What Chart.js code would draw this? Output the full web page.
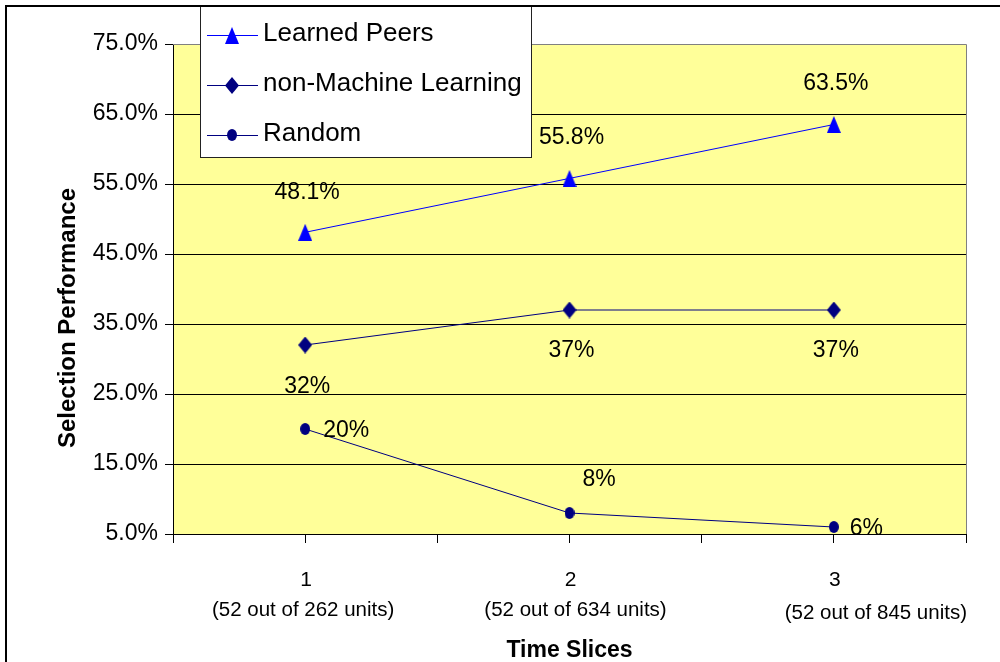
<!DOCTYPE html>
<html lang="en">
<head>
  <meta charset="UTF-8">
  <title>Selection Performance</title>
  <script src="https://cdn.jsdelivr.net/npm/chart.js"></script>
  <style>
    html, body { margin: 0; padding: 0; background: #fff; }
    canvas { display: block; }
  </style>
</head>
<body>
  <canvas id="chart" width="1000" height="662"></canvas>

  <script>
    // values
    const timeSlices = [1, 2, 3];
    const sliceNotes = ['(52 out of 262 units)', '(52 out of 634 units)', '(52 out of 845 units)'];
    const learnedPeers = [48.1, 55.8, 63.5];
    const nonMachineLearning = [32, 37, 37];
    const randomPeers = [20, 8, 6];
    const yTicks = [5, 15, 25, 35, 45, 55, 65, 75];

    const FONT = "'Liberation Sans', Arial, sans-serif";

    // small canvases used as point markers (the original ones are a bit taller than wide)
    function makeMarker(w, h, color, shape) {
      const c = document.createElement('canvas');
      c.width = w;
      c.height = h;
      const g = c.getContext('2d');
      g.fillStyle = color;
      g.beginPath();
      if (shape === 'triangle') {
        g.moveTo(w / 2, 0); g.lineTo(w, h); g.lineTo(0, h);
      } else if (shape === 'diamond') {
        g.moveTo(w / 2, 0); g.lineTo(w, h / 2); g.lineTo(w / 2, h); g.lineTo(0, h / 2);
      } else {
        g.ellipse(w / 2, h / 2, w / 2, h / 2, 0, 0, Math.PI * 2);
      }
      g.closePath();
      g.fill();
      return c;
    }

    const triMark = makeMarker(14, 17, '#0000FF', 'triangle');
    const diaMark = makeMarker(14, 17, '#000080', 'diamond');
    const dotMark = makeMarker(10, 12, '#000080', 'ellipse');

    // where each value label sits relative to its point: [dx, dy, align]
    const labelSpots = [
      [[2, -40, 'center'], [2, -41, 'center'], [2, -41, 'center']],
      [[2, 42, 'center'], [2, 41, 'center'], [2, 41, 'center']],
      [[18, 2, 'left'], [13, -33, 'left'], [16, 2, 'left']]
    ];
    const noteShift = [[-2, 0], [6, 0], [42, 3]];

    const toPoints = vals => timeSlices.map((x, i) => ({ x: x, y: vals[i] }));

    const decorations = {
      id: 'decorations',
      beforeDraw(chart) {
        const { ctx, chartArea: a } = chart;
        ctx.save();
        ctx.fillStyle = '#fff';
        ctx.fillRect(0, 0, chart.width, chart.height);
        ctx.fillStyle = '#FFFF99';
        ctx.fillRect(a.left, a.top, a.right - a.left, a.bottom - a.top);
        ctx.restore();
      },
      afterDraw(chart) {
        const { ctx, chartArea: a } = chart;
        const xs = chart.scales.x;
        ctx.save();

        // grey frame on top/right of the plot
        ctx.strokeStyle = '#808080';
        ctx.lineWidth = 1;
        ctx.beginPath();
        ctx.moveTo(a.left, Math.round(a.top) + 0.5);
        ctx.lineTo(Math.round(a.right) + 0.5, Math.round(a.top) + 0.5);
        ctx.lineTo(Math.round(a.right) + 0.5, a.bottom);
        ctx.stroke();

        // value labels
        ctx.fillStyle = '#000';
        ctx.font = '23px ' + FONT;
        ctx.textBaseline = 'middle';
        chart.data.datasets.forEach((ds, d) => {
          chart.getDatasetMeta(d).data.forEach((pt, i) => {
            const s = labelSpots[d][i];
            ctx.textAlign = s[2];
            ctx.fillText(ds.data[i].y + '%', pt.x + s[0], pt.y + s[1]);
          });
        });

        // category labels under the x axis
        ctx.textAlign = 'center';
        timeSlices.forEach((v, i) => {
          const px = xs.getPixelForValue(v);
          ctx.font = '21px ' + FONT;
          ctx.fillText(String(v), px + 1, 580);
          ctx.font = '20.5px ' + FONT;
          ctx.fillText(sliceNotes[i], px + noteShift[i][0], 610 + noteShift[i][1]);
        });

        // y axis title
        ctx.save();
        ctx.translate(68, 318);
        ctx.rotate(-Math.PI / 2);
        ctx.font = 'bold 24px ' + FONT;
        ctx.fillText('Selection Performance', 0, 0);
        ctx.restore();

        // legend
        ctx.fillStyle = '#fff';
        ctx.fillRect(200, 6, 331, 151);
        ctx.strokeStyle = '#222';
        ctx.strokeRect(200.5, 6.5, 331, 151);
        const rows = [33.5, 83.5, 133.5];
        chart.data.datasets.forEach((ds, d) => {
          const y = rows[d];
          ctx.strokeStyle = ds.borderColor;
          ctx.beginPath();
          ctx.moveTo(207, Math.round(y + 1) + 0.5);
          ctx.lineTo(258, Math.round(y + 1) + 0.5);
          ctx.stroke();
          const m = ds.pointStyle;
          ctx.drawImage(m, 232 - m.width / 2, Math.round(y + 1.5 - m.height / 2));
          ctx.fillStyle = '#000';
          ctx.textAlign = 'left';
          ctx.font = '26px ' + FONT;
          ctx.fillText(ds.label, 263, y);
        });

        // outer frame (cut by the picture on the right and bottom)
        ctx.fillStyle = '#000';
        ctx.fillRect(5, 5, 995, 2);
        ctx.fillRect(5, 5, 2, 657);
        ctx.restore();
      }
    };

    new Chart(document.getElementById('chart'), {
      type: 'line',
      data: {
        datasets: [
          {
            label: 'Learned Peers',
            data: toPoints(learnedPeers),
            borderColor: '#0000FF',
            backgroundColor: '#0000FF',
            borderWidth: 1,
            pointStyle: triMark,
            pointRadius: 8
          },
          {
            label: 'non-Machine Learning',
            data: toPoints(nonMachineLearning),
            borderColor: '#000080',
            backgroundColor: '#000080',
            borderWidth: 1,
            pointStyle: diaMark,
            pointRadius: 8
          },
          {
            label: 'Random',
            data: toPoints(randomPeers),
            borderColor: '#000080',
            backgroundColor: '#000080',
            borderWidth: 1,
            pointStyle: dotMark,
            pointRadius: 6
          }
        ]
      },
      options: {
        responsive: false,
        animation: false,
        tension: 0,
        layout: { padding: { top: 44, right: 34, left: 0, bottom: 0 } },
        plugins: {
          legend: { display: false },
          tooltip: { enabled: false }
        },
        scales: {
          x: {
            type: 'linear',
            min: timeSlices[0] - 0.5,
            max: timeSlices[timeSlices.length - 1] + 0.5,
            ticks: { stepSize: 0.5, display: false },
            grid: { drawOnChartArea: false, drawTicks: true, tickLength: 9, tickColor: '#000' },
            border: { color: '#000', width: 1 },
            title: {
              display: true,
              text: 'Time Slices',
              color: '#000',
              font: { family: FONT, size: 23, weight: 'bold', lineHeight: 1 },
              padding: { top: 0, bottom: 0 }
            },
            afterFit(scale) { scale.height = 128; }
          },
          y: {
            min: yTicks[0],
            max: yTicks[yTicks.length - 1],
            ticks: {
              stepSize: yTicks[1] - yTicks[0],
              padding: 7,
              color: '#000',
              font: { family: FONT, size: 23 },
              callback: v => v.toFixed(1) + '%'
            },
            grid: {
              color: c => (c.tick && c.tick.value === yTicks[yTicks.length - 1]) ? '#808080' : '#000',
              tickColor: '#000',
              tickLength: 8,
              lineWidth: 1
            },
            border: { color: '#000', width: 1 },
            afterFit(scale) { scale.width = 173; }
          }
        }
      },
      plugins: [decorations]
    });
  </script>
</body>
</html>
